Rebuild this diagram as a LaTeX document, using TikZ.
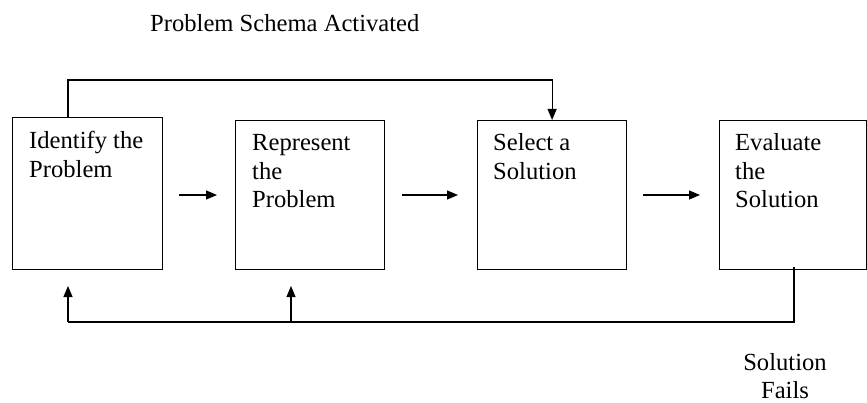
\documentclass[tikz,border=0pt]{standalone}
\usepackage{fontspec}
\setmainfont{Liberation Serif}
\usetikzlibrary{arrows.meta}
\begin{document}
\begin{tikzpicture}[x=1pt,y=-1pt,
  boxstyle/.style={draw,line width=1.2pt,inner sep=0pt,anchor=north west},
  lbl/.style={inner sep=0pt,anchor=base west,align=left,font=\fontsize{24.6}{28.5}\selectfont},
  conn/.style={line width=1.2pt},
  arr/.style={line width=1.2pt,-{Triangle[length=11pt,width=9pt]}}]
\useasboundingbox (0,0) rectangle (867,403);
% boxes
\node[boxstyle,minimum width=150pt,minimum height=152pt] (b1) at (12,117) {};
\node[boxstyle,minimum width=149pt,minimum height=149pt] (b2) at (235,120) {};
\node[boxstyle,minimum width=149pt,minimum height=149pt] (b3) at (477,120) {};
\node[boxstyle,minimum width=147pt,minimum height=149pt] (b4) at (719,120) {};
% texts (anchor = baseline of last line)
\node[lbl] (t1) at (29,177.5) {Identify the\\Problem};
\node[lbl] (t2) at (252,208) {Represent\\the\\Problem};
\node[lbl] (t3) at (493,179.5) {Select a\\Solution};
\node[lbl] (t4) at (735,208) {Evaluate\\the\\Solution};
\node[lbl] (title) at (150,32) {Problem Schema Activated};
\node[lbl,anchor=base,align=center,font=\fontsize{24.6}{27.5}\selectfont] (fail) at (785,398) {Solution\\Fails};
% forward arrows
\coordinate (a1s) at (179,195); \coordinate (a1e) at (217,195);
\coordinate (a2s) at (402,195); \coordinate (a2e) at (458,195);
\coordinate (a3s) at (643,195); \coordinate (a3e) at (700,195);
\draw[arr] (a1s) -- (a1e);
\draw[arr] (a2s) -- (a2e);
\draw[arr] (a3s) -- (a3e);
% top feedback
\coordinate (topL) at (68,80);
\draw[arr] (b1.north west -| topL) -- (topL) -- (topL -| b3.north) -- (b3.north);
% bottom feedback
\coordinate (bs) at (794,267);
\coordinate (bB) at (794,322);
\coordinate (up1) at (68,286);
\coordinate (up2) at (291,286);
\draw[conn] (bs) -- (bB) -- (bB -| up1);
\draw[arr] (bB -| up1) -- (up1);
\draw[arr] (bB -| up2) -- (up2);
\end{tikzpicture}
\end{document}
